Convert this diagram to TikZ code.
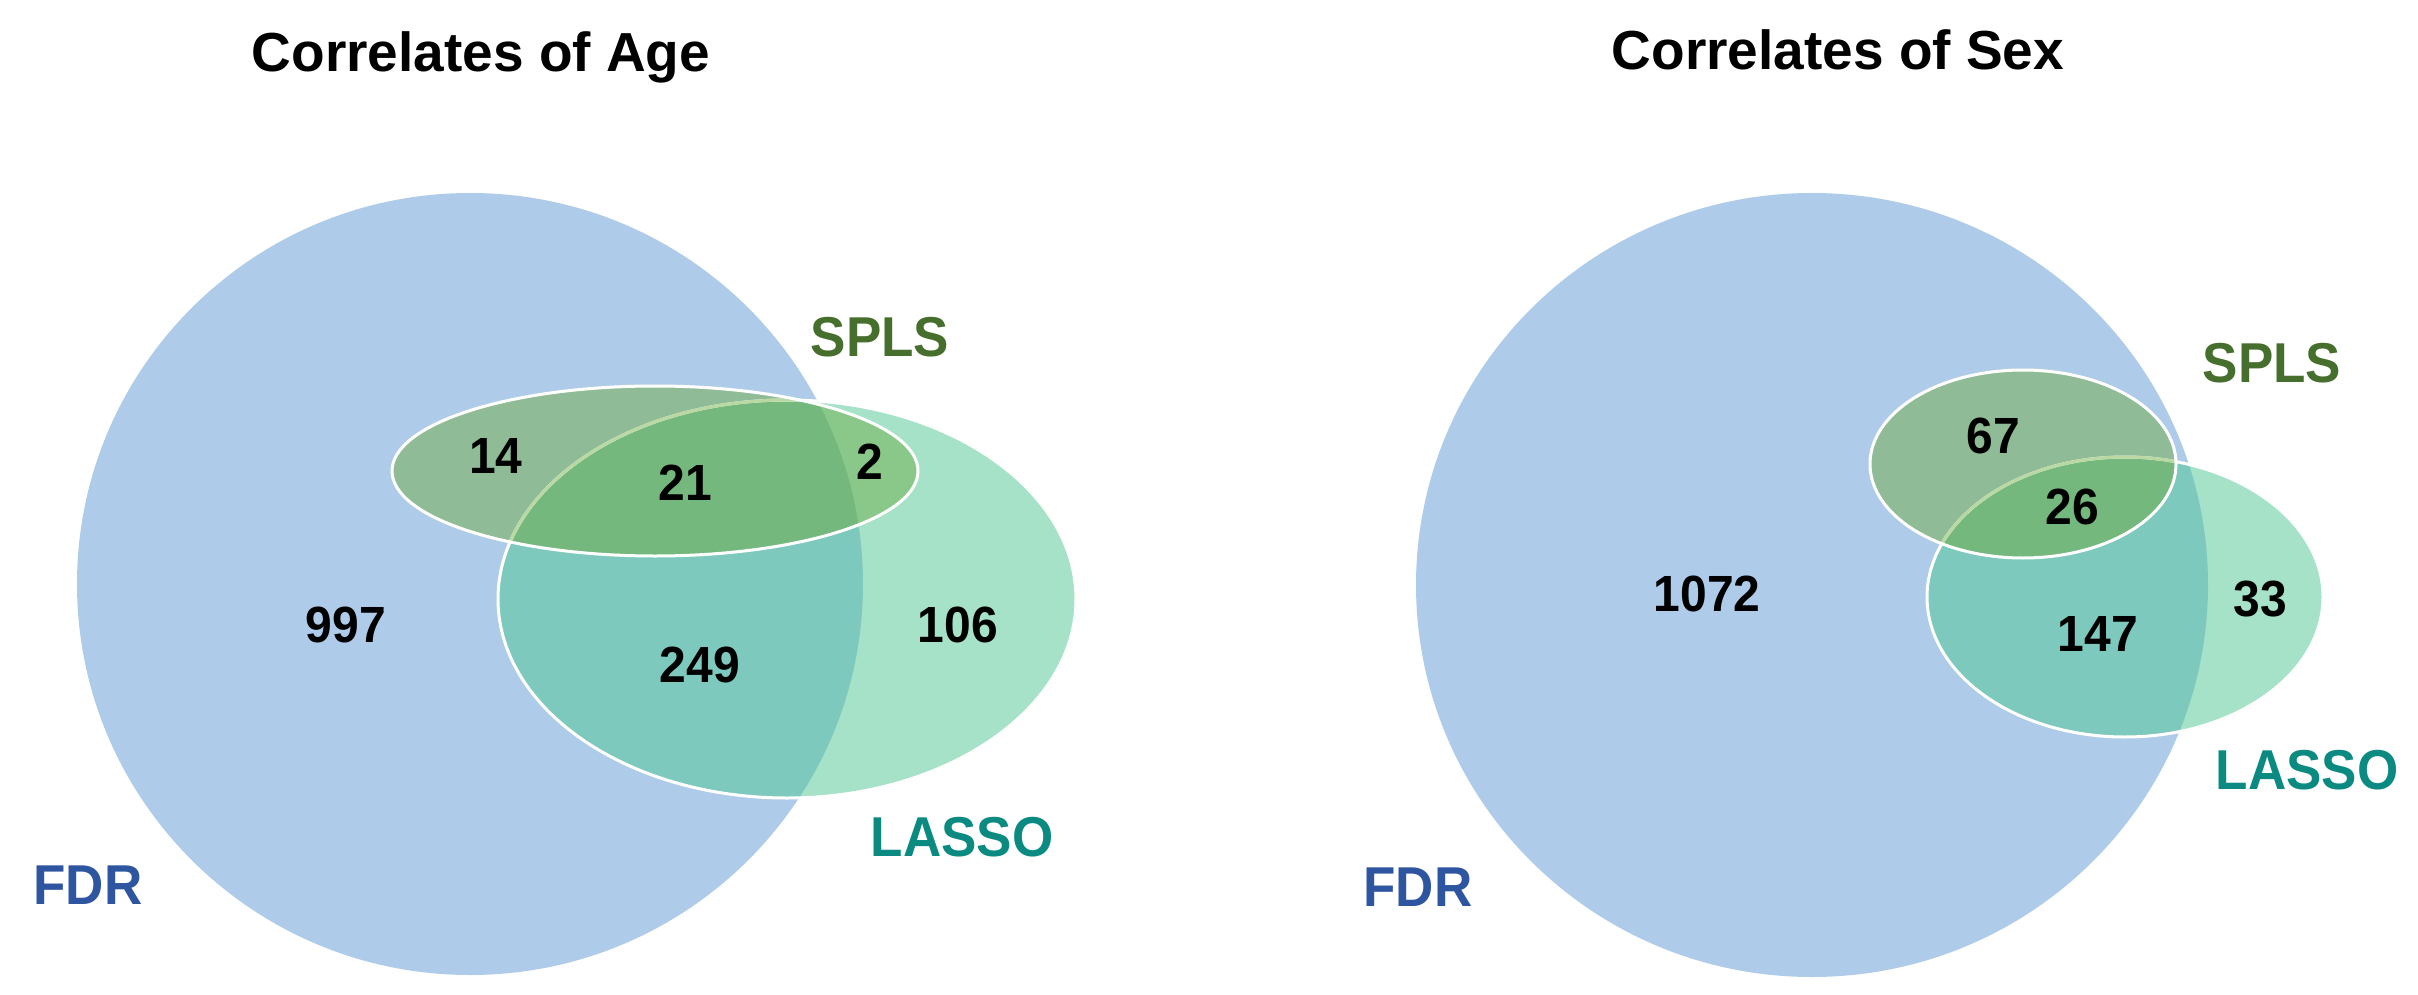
\documentclass[tikz,border=0pt]{standalone}
\usepackage{fontspec}
\usepackage{graphicx}
\setmainfont{Liberation Sans}
\definecolor{fdrc}{RGB}{175,203,234}
\definecolor{lassoOnly}{RGB}{166,226,199}
\definecolor{lassoFdr}{RGB}{126,201,189}
\definecolor{splsOnly}{RGB}{186,216,162}
\definecolor{splsFdr}{RGB}{143,188,151}
\definecolor{splsLasso}{RGB}{137,200,136}
\definecolor{tripleC}{RGB}{117,184,126}
\definecolor{splsText}{RGB}{70,110,45}
\definecolor{lassoText}{RGB}{10,138,128}
\definecolor{fdrText}{RGB}{45,85,160}
\newcommand{\tallText}[1]{\scalebox{1}[1.06]{#1}}
\tikzset{
  titletext/.style={anchor=base, inner sep=0pt, font=\fontsize{55}{60}\selectfont\bfseries, text=black},
  numtext/.style={anchor=base, inner sep=0pt, font=\fontsize{48}{52}\selectfont\bfseries, text=black},
  setlabel/.style={anchor=base, inner sep=0pt, font=\fontsize{53}{58}\selectfont\bfseries},
  rim/.style={draw=white, line width=3pt},
  innerrim/.style={draw=splsOnly, line width=3pt},
}
\begin{document}
\begin{tikzpicture}[x=1pt,y=-1pt]
\useasboundingbox (0,0) rectangle (2418,995);
\fill[white] (0,0) rectangle (2418,995);
% ---------------- Left panel: Age ----------------
\fill[fdrc] (470,584) ellipse [x radius=393, y radius=391];
\fill[lassoOnly] (787,599) ellipse [x radius=289, y radius=199];
\begin{scope}
  \clip (470,584) ellipse [x radius=393, y radius=391];
  \fill[lassoFdr] (787,599) ellipse [x radius=289, y radius=199];
\end{scope}
\fill[splsOnly] (655,471) ellipse [x radius=263, y radius=85];
\begin{scope}
  \clip (470,584) ellipse [x radius=393, y radius=391];
  \fill[splsFdr] (655,471) ellipse [x radius=263, y radius=85];
\end{scope}
\begin{scope}
  \clip (787,599) ellipse [x radius=289, y radius=199];
  \fill[splsLasso] (655,471) ellipse [x radius=263, y radius=85];
  \clip (470,584) ellipse [x radius=393, y radius=391];
  \fill[tripleC] (655,471) ellipse [x radius=263, y radius=85];
\end{scope}
\draw[rim] (787,599) ellipse [x radius=289, y radius=199];
\begin{scope}
  \clip (655,471) ellipse [x radius=263, y radius=85];
  \draw[innerrim] (787,599) ellipse [x radius=289, y radius=199];
\end{scope}
\draw[rim] (655,471) ellipse [x radius=263, y radius=85];

\node[titletext] (titleAge) at (481,72) {Correlates of Age};
\node[setlabel, text=splsText] (splsA) at (880,356) {\tallText{SPLS}};
\node[setlabel, text=lassoText] (lassoA) at (962,856) {\tallText{LASSO}};
\node[setlabel, text=fdrText] (fdrA) at (88,904) {\tallText{FDR}};
\node[numtext] (nA14) at (496,473) {\tallText{14}};
\node[numtext] (nA21) at (685,500) {\tallText{21}};
\node[numtext] (nA2) at (870,479) {\tallText{2}};
\node[numtext] (nA997) at (346,642) {\tallText{997}};
\node[numtext] (nA249) at (700,682) {\tallText{249}};
\node[numtext] (nA106) at (958,642) {\tallText{106}};

% ---------------- Right panel: Sex ----------------
\fill[fdrc] (1812,585) ellipse [x radius=396, y radius=392];
\fill[lassoOnly] (2125,597) ellipse [x radius=198, y radius=140];
\begin{scope}
  \clip (1812,585) ellipse [x radius=396, y radius=392];
  \fill[lassoFdr] (2125,597) ellipse [x radius=198, y radius=140];
\end{scope}
\fill[splsOnly] (2023,464) ellipse [x radius=153, y radius=94];
\begin{scope}
  \clip (1812,585) ellipse [x radius=396, y radius=392];
  \fill[splsFdr] (2023,464) ellipse [x radius=153, y radius=94];
\end{scope}
\begin{scope}
  \clip (2125,597) ellipse [x radius=198, y radius=140];
  \fill[splsLasso] (2023,464) ellipse [x radius=153, y radius=94];
  \clip (1812,585) ellipse [x radius=396, y radius=392];
  \fill[tripleC] (2023,464) ellipse [x radius=153, y radius=94];
\end{scope}
\draw[rim] (2125,597) ellipse [x radius=198, y radius=140];
\begin{scope}
  \clip (2023,464) ellipse [x radius=153, y radius=94];
  \draw[innerrim] (2125,597) ellipse [x radius=198, y radius=140];
\end{scope}
\draw[rim] (2023,464) ellipse [x radius=153, y radius=94];

\node[titletext] (titleSex) at (1838,70) {Correlates of Sex};
\node[setlabel, text=splsText] (splsS) at (2272,382) {\tallText{SPLS}};
\node[setlabel, text=lassoText] (lassoS) at (2307,789) {\tallText{LASSO}};
\node[setlabel, text=fdrText] (fdrS) at (1418,906) {\tallText{FDR}};
\node[numtext] (nS67) at (1993,453) {\tallText{67}};
\node[numtext] (nS26) at (2072,524) {\tallText{26}};
\node[numtext] (nS147) at (2098,651) {\tallText{147}};
\node[numtext] (nS33) at (2260,616) {\tallText{33}};
\node[numtext] (nS1072) at (1707,611) {\tallText{1072}};
\end{tikzpicture}
\end{document}
